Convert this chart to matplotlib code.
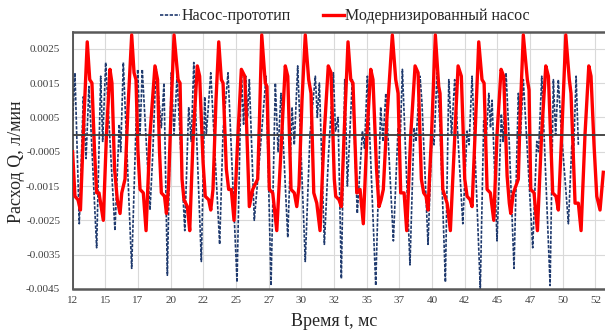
import math
import matplotlib
matplotlib.use("Agg")
import matplotlib.pyplot as plt
from matplotlib.ticker import FixedLocator, FuncFormatter
from matplotlib.lines import Line2D

# ---- data ----
series_names = ["Насос-прототип", "Модернизированный насос"]

proto_t = [12.00, 12.18, 12.51, 12.82, 13.03, 13.25, 13.84, 14.15, 14.30, 14.53,
           15.24, 15.57, 15.68, 15.88, 16.52, 16.98, 17.16, 17.33, 17.92, 18.13,
           18.38, 18.79, 18.99, 19.25, 19.55, 19.76, 19.99, 20.58, 20.88, 21.08,
           21.27, 21.85, 22.11, 22.23, 22.57, 23.25, 23.51, 23.89, 24.58, 24.91,
           25.08, 25.24, 25.38, 25.52, 25.90, 26.30, 26.80, 27.18, 27.51, 27.72,
           27.94, 28.46, 28.79, 28.96, 29.22, 29.80, 30.16, 30.57, 30.72, 30.88,
           31.26, 31.59, 31.95, 32.11, 32.31, 32.56, 32.82, 33.02, 33.40, 33.78,
           34.17, 34.33, 34.55, 35.19, 35.57, 35.75, 35.96, 36.54, 36.90, 37.05,
           37.23, 37.81, 38.12, 38.27, 38.58, 38.73, 39.19, 39.50, 39.65, 39.88,
           40.11, 40.52, 40.78, 40.99, 41.23, 41.85, 42.18, 42.33, 42.56, 43.19,
           43.45, 43.63, 43.84, 43.97, 44.09, 44.47, 44.80, 44.93, 45.16, 45.39,
           45.77, 46.10, 46.27, 46.48, 46.69, 47.20, 47.51, 47.65, 47.89, 48.53,
           48.78, 48.95, 49.16, 49.37, 49.93, 50.19, 50.32, 50.52, 50.69]
proto_q = [0.0004, 0.0018, -0.0026, 0.0011, -0.0007, 0.0014, -0.0033, 0.0017, -0.0002, 0.0021,
           -0.0028, 0.0003, -0.0005, 0.0021, -0.0039, 0.0019, 0.0000, 0.0019, -0.0022, -0.0006,
           0.0020, 0.0002, 0.0015, -0.0041, 0.0018, 0.0000, 0.0017, -0.0028, 0.0008, -0.0002,
           0.0021, -0.0037, 0.0011, 0.0000, 0.0018, -0.0032, 0.0001, 0.0018, -0.0043, 0.0019,
           0.0003, 0.0017, 0.0005, 0.0016, -0.0025, -0.0007, 0.0017, -0.0044, 0.0015, -0.0005,
           0.0012, -0.0030, 0.0008, -0.0003, 0.0020, -0.0037, 0.0000, 0.0017, 0.0005, 0.0015,
           -0.0032, -0.0005, 0.0018, 0.0001, 0.0005, -0.0042, 0.0016, -0.0015, 0.0016, -0.0023,
           0.0001, -0.0004, 0.0017, -0.0044, 0.0008, -0.0002, 0.0012, -0.0031, 0.0002, -0.0003,
           0.0019, -0.0038, 0.0002, -0.0002, 0.0017, 0.0009, -0.0032, 0.0001, -0.0003, 0.0018,
           0.0002, -0.0043, 0.0016, 0.0000, 0.0016, -0.0026, 0.0001, -0.0003, 0.0017, -0.0045,
           0.0004, -0.0002, 0.0012, 0.0002, 0.0010, -0.0031, 0.0006, -0.0002, 0.0018, -0.0001,
           -0.0039, 0.0012, 0.0000, 0.0016, 0.0002, -0.0033, -0.0002, -0.0005, 0.0017, -0.0044,
           0.0016, 0.0000, 0.0016, 0.0002, -0.0026, -0.0003, -0.0006, 0.0017, -0.0003]

modern_t = [12.00, 12.18, 12.41, 12.60, 12.87, 13.12, 13.31, 13.48, 13.68, 13.84,
            14.02, 14.35, 14.59, 14.86, 15.01, 15.21, 15.42, 15.63, 15.76, 16.01,
            16.24, 16.52, 16.70, 16.85, 17.00, 17.16, 17.41, 17.62, 17.92, 18.30,
            18.50, 18.65, 18.79, 19.03, 19.18, 19.34, 19.53, 19.76, 20.07, 20.22,
            20.37, 20.52, 20.78, 20.96, 21.21, 21.54, 21.72, 21.98, 22.15, 22.41,
            22.57, 22.74, 22.97, 23.18, 23.38, 23.51, 23.76, 23.94, 24.14, 24.35,
            24.65, 24.91, 25.17, 25.30, 25.52, 25.78, 26.16, 26.30, 26.47, 26.74,
            26.87, 27.05, 27.31, 27.62, 27.95, 28.27, 28.46, 28.71, 28.96, 29.15,
            29.32, 29.55, 29.80, 30.06, 30.24, 30.45, 30.68, 30.93, 31.23, 31.56,
            31.77, 32.02, 32.13, 32.38, 32.56, 32.77, 33.07, 33.28, 33.45, 33.74,
            33.99, 34.24, 34.52, 34.81, 34.98, 35.25, 35.44, 35.60, 35.77, 36.05,
            36.46, 36.72, 36.90, 37.10, 37.36, 37.56, 37.87, 38.20, 38.43, 38.68,
            38.86, 39.04, 39.19, 39.46, 39.75, 40.01, 40.11, 40.32, 40.65, 40.90,
            41.24, 41.49, 41.74, 42.00, 42.18, 42.41, 42.56, 42.81, 43.07, 43.32,
            43.48, 43.71, 43.96, 44.22, 44.47, 44.78, 44.98, 45.24, 45.41, 45.52,
            45.72, 46.10, 46.23, 46.48, 46.79, 46.92, 47.05, 47.30, 47.56, 47.88,
            48.20, 48.40, 48.73, 48.98, 49.16, 49.44, 49.73, 50.00, 50.13, 50.44,
            50.69, 50.90, 51.20, 51.49, 51.66, 51.89, 52.10, 52.35, 52.60]
modern_q = [-0.0005, -0.0018, -0.0019, -0.0022, 0.0005, 0.0027, 0.0016, 0.0015, -0.0005, -0.0017,
            -0.0017, -0.0025, 0.0000, 0.0019, 0.0015, -0.0010, -0.0019, -0.0023, -0.0017, -0.0013,
            0.0008, 0.0029, 0.0018, 0.0016, -0.0005, -0.0016, -0.0017, -0.0028, 0.0000, 0.0020,
            0.0016, -0.0005, -0.0017, -0.0018, -0.0023, -0.0015, 0.0007, 0.0029, 0.0016, 0.0015,
            -0.0013, -0.0019, -0.0021, -0.0028, -0.0002, 0.0020, 0.0017, -0.0008, -0.0018, -0.0019,
            -0.0022, -0.0016, 0.0010, 0.0027, 0.0016, 0.0015, -0.0010, -0.0016, -0.0016, -0.0025,
            0.0000, 0.0019, 0.0017, 0.0004, -0.0021, -0.0016, -0.0013, 0.0005, 0.0029, 0.0015,
            0.0014, -0.0016, -0.0017, -0.0028, -0.0004, 0.0020, 0.0017, -0.0016, -0.0017, -0.0021,
            -0.0015, 0.0010, 0.0029, 0.0016, 0.0012, -0.0017, -0.0020, -0.0028, -0.0001, 0.0020,
            0.0018, -0.0013, -0.0018, -0.0019, -0.0021, 0.0000, 0.0027, 0.0016, 0.0015, -0.0017,
            -0.0016, -0.0026, 0.0000, 0.0019, 0.0016, -0.0010, -0.0021, -0.0019, -0.0016, 0.0005,
            0.0029, 0.0016, 0.0012, -0.0017, -0.0017, -0.0028, 0.0000, 0.0020, 0.0018, -0.0013,
            -0.0017, -0.0018, -0.0022, 0.0000, 0.0029, 0.0014, 0.0012, -0.0016, -0.0020, -0.0028,
            0.0000, 0.0020, 0.0017, -0.0013, -0.0018, -0.0019, -0.0021, 0.0002, 0.0027, 0.0016,
            0.0015, -0.0016, -0.0017, -0.0025, 0.0000, 0.0019, 0.0017, -0.0012, -0.0020, -0.0023,
            -0.0017, -0.0013, 0.0005, 0.0029, 0.0016, 0.0013, -0.0016, -0.0017, -0.0028, 0.0000,
            0.0020, 0.0017, -0.0017, -0.0018, -0.0022, 0.0002, 0.0029, 0.0016, 0.0012, -0.0020,
            -0.0020, -0.0028, 0.0000, 0.0020, 0.0017, -0.0003, -0.0018, -0.0022, -0.0011]

x_ticks = [12, 14.5, 17, 19.5, 22, 24.5, 27, 29.5, 32, 34.5, 37, 39.5, 42, 44.5, 47, 49.5, 52]
y_ticks = [-0.0045, -0.0035, -0.0025, -0.0015, -0.0005, 0.0005, 0.0015, 0.0025]
x_label = "Время t, мс"
y_label = "Расход Q, л/мин"

# ---- figure ----
plt.rcParams["font.family"] = ["Liberation Serif", "DejaVu Serif"]
fig = plt.figure(figsize=(6.05, 3.36), dpi=100)
ax = fig.add_axes([0.12, 0.14, 0.88, 0.766])

blue = "#1F3A6E"
red = "#FF0000"
axis_col = "#595959"

ax.plot(proto_t, proto_q, color=blue, lw=1.2, linestyle=(0, (2.0, 0.9)), zorder=2)
ax.plot(modern_t, modern_q, color=red, lw=2.4, zorder=3, solid_joinstyle="round")
ax.axhline(0, color="#3a3a3a", lw=1.3, zorder=4)

ax.set_xlim(12, 52.73)
ax.set_ylim(-0.0045, 0.0030)

ax.xaxis.set_major_locator(FixedLocator(x_ticks))
ax.yaxis.set_major_locator(FixedLocator(y_ticks))
ax.xaxis.set_major_formatter(FuncFormatter(lambda v, p: str(int(math.floor(v + 0.5)))))
ax.yaxis.set_major_formatter(FuncFormatter(lambda v, p: f"{v:.4f}"))
ax.tick_params(axis="both", length=0, labelsize=8, colors="#404040")
ax.tick_params(axis="y", pad=9)
ax.tick_params(axis="x", pad=5)
ax.grid(True, color="#D9D9D9", lw=0.8, zorder=0)
ax.set_axisbelow(True)

for side in ["top", "bottom"]:
    ax.spines[side].set_color(axis_col)
    ax.spines[side].set_linewidth(1.8)
ax.spines["left"].set_color("#404040")
ax.spines["left"].set_linewidth(1.2)
ax.spines["right"].set_visible(False)

fig.text(0.553, 0.042, x_label, ha="center", va="center", fontsize=13, color="#262626")
fig.text(0.027, 0.52, y_label, ha="center", va="center", rotation=90, fontsize=13, color="#262626")

handles = [Line2D([], [], color=blue, lw=1.2, linestyle=(0, (2.0, 0.9))),
           Line2D([], [], color=red, lw=2.4)]
fig.legend(handles, series_names, loc="center", bbox_to_anchor=(0.57, 0.952), ncol=2,
           frameon=False, fontsize=11.5, handlelength=1.3, handletextpad=0.1,
           columnspacing=2.0, labelcolor="#262626")

fig.savefig("out.png", dpi=100)
